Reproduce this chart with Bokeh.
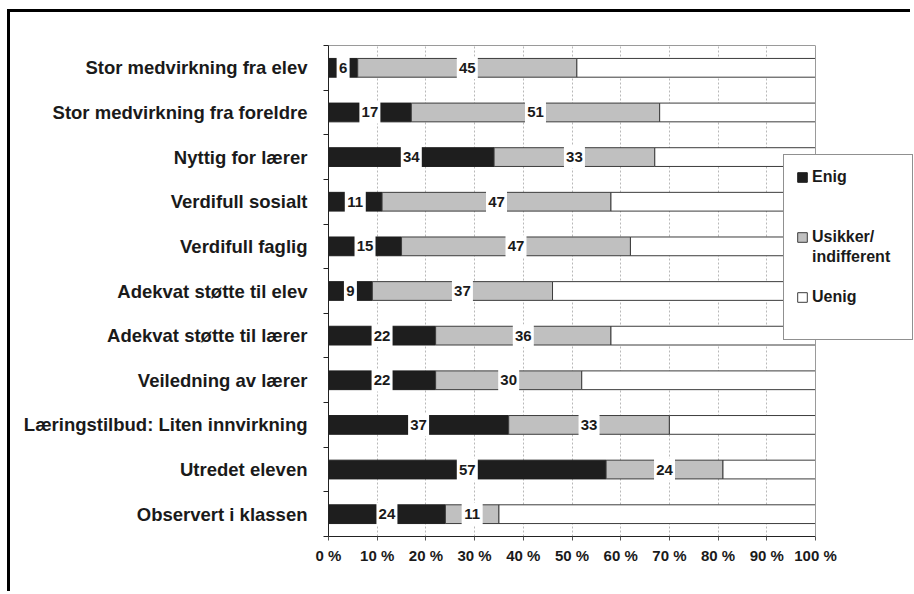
from bokeh.plotting import figure
from bokeh.models import (Range1d, FixedTicker, ColumnDataSource, Legend, LegendItem,
                          LinearAxis, Span)
from bokeh.core.properties import value
from bokeh.embed import file_html
from bokeh.resources import INLINE

categories = ["Stor medvirkning fra elev", "Stor medvirkning fra foreldre", "Nyttig for lærer",
              "Verdifull sosialt", "Verdifull faglig", "Adekvat støtte til elev",
              "Adekvat støtte til lærer", "Veiledning av lærer",
              "Læringstilbud: Liten innvirkning", "Utredet eleven", "Observert i klassen"]
enig = [6, 17, 34, 11, 15, 9, 22, 22, 37, 57, 24]
usikker = [45, 51, 33, 47, 47, 37, 36, 30, 33, 24, 11]
uenig = [49, 32, 33, 42, 38, 54, 42, 48, 30, 19, 65]
series_names = ["Enig", "Usikker/", "indifferent", "Uenig"]
x_ticks = [0, 10, 20, 30, 40, 50, 60, 70, 80, 90, 100]

FONT = "Liberation Sans"
n = len(categories)
ypos = [n - i - 0.5 for i in range(n)]

# frame extends to the right edge so the legend can overlap it; axis limited to 0..100
FRAME_LEFT = 318
FIG_W = 903
X_END = 100 * (FIG_W - FRAME_LEFT) / 487.0

p = figure(width=FIG_W, height=582, output_backend="svg", toolbar_location=None,
           x_range=Range1d(0, X_END), y_range=Range1d(0, n),
           min_border_left=FRAME_LEFT, min_border_top=33, min_border_right=0, min_border_bottom=58)
p.styles = {"border-top": "3px solid black", "border-left": "3px solid black",
            "margin-left": "7px", "margin-top": "9px"}
p.outline_line_color = None
p.background_fill_color = "white"
p.border_fill_color = "white"

xa = p.below[0]
ya = p.left[0]

e_left = [0] * n
e_right = enig
u_left = enig
u_right = [a + b for a, b in zip(enig, usikker)]
w_left = u_right
w_right = [a + b + c for a, b, c in zip(enig, usikker, uenig)]

# grid
p.ygrid.grid_line_color = None
p.xgrid.ticker = FixedTicker(ticks=x_ticks)
p.xgrid.grid_line_color = "#b8b8b8"
p.xgrid.grid_line_dash = "2 2"
p.xgrid.grid_line_width = 1

# plot-area outline (top and right), grey
p.add_layout(Span(location=x_ticks[-1], dimension="height", line_color="#9a9a9a", line_width=1))
top_ax = LinearAxis(bounds=(x_ticks[0], x_ticks[-1]), ticker=FixedTicker(ticks=[]),
                    axis_line_color="#9a9a9a", major_tick_line_color=None,
                    minor_tick_line_color=None, major_label_text_font_size="0px")
p.add_layout(top_ax, "above")

src = ColumnDataSource(dict(y=ypos, el=e_left, er=e_right, ul=u_left, ur=u_right,
                            wl=w_left, wr=w_right))
BH = 0.42
r_e = p.hbar(y="y", left="el", right="er", height=BH, source=src,
             fill_color="#1e1e1e", line_color="#1e1e1e", line_width=1)
r_u = p.hbar(y="y", left="ul", right="ur", height=BH, source=src,
             fill_color="#c0c0c0", line_color="#3c3c3c", line_width=1)
r_w = p.hbar(y="y", left="wl", right="wr", height=BH, source=src,
             fill_color="#ffffff", line_color="#3c3c3c", line_width=1)

# value labels with white boxes
lab_x, lab_y, lab_t, lab_w = [], [], [], []
for i in range(n):
    for lo, hi in ((e_left[i], e_right[i]), (u_left[i], u_right[i])):
        v = hi - lo
        lab_x.append((lo + hi) / 2)
        lab_y.append(ypos[i])
        lab_t.append(str(v))
        lab_w.append(5 + 8 * len(str(v)))
lsrc = ColumnDataSource(dict(x=lab_x, y=lab_y, t=lab_t, w=lab_w))
p.rect(x="x", y="y", width="w", height=BH + 0.08, width_units="screen", source=lsrc,
       fill_color="white", line_color=None)
p.text(x="x", y="y", text="t", source=lsrc, text_font=value(FONT), text_font_style="bold",
       text_font_size="15px", text_align="center", text_baseline="middle", text_color="#1a1a1a")

# x axis (bottom)
xa.bounds = (x_ticks[0], x_ticks[-1])
xa.ticker = FixedTicker(ticks=x_ticks)
xa.major_label_overrides = {t: f"{t} %" for t in x_ticks}
xa.major_tick_out = 4
xa.major_tick_in = 0
xa.minor_tick_line_color = None
xa.axis_line_color = "#222222"
xa.major_tick_line_color = "#555555"
xa.major_label_text_font = FONT
xa.major_label_text_font_style = "bold"
xa.major_label_text_font_size = "15px"
xa.major_label_text_color = "#1a1a1a"
xa.major_label_standoff = 6

# y axis
ya.ticker = FixedTicker(ticks=ypos, minor_ticks=list(range(n + 1)))
ya.major_label_overrides = {y: c for y, c in zip(ypos, categories)}
ya.major_tick_line_color = None
ya.major_tick_out = 0
ya.major_tick_in = 0
ya.minor_tick_out = 5
ya.minor_tick_in = 0
ya.minor_tick_line_color = "#222222"
ya.axis_line_color = "#222222"
ya.major_label_text_font = FONT
ya.major_label_text_font_style = "bold"
ya.major_label_text_font_size = "18.5px"
ya.major_label_text_color = "#1a1a1a"
ya.major_label_standoff = 16

# legend (blank items act as spacers)
r_blank = p.hbar(y=[], left=[], right=[], height=BH, fill_alpha=0, line_alpha=0)
items = [
    LegendItem(label=series_names[0], renderers=[r_e]),
    LegendItem(label=" ", renderers=[r_blank]),
    LegendItem(label="  ", renderers=[r_blank]),
    LegendItem(label=series_names[1], renderers=[r_u]),
    LegendItem(label=series_names[2], renderers=[r_blank]),
    LegendItem(label="   ", renderers=[r_blank]),
    LegendItem(label=series_names[3], renderers=[r_w]),
    LegendItem(label="    ", renderers=[r_blank]),
]
leg = Legend(items=items, location=(455, 196), orientation="vertical",
             padding=12, spacing=0, margin=0, label_height=20, label_width=88,
             glyph_height=12, glyph_width=12, label_standoff=4,
             label_text_font=FONT, label_text_font_style="bold", label_text_font_size="16px",
             label_text_color="#1a1a1a", label_text_baseline="middle",
             border_line_color="#222222", border_line_width=1,
             background_fill_color="white", background_fill_alpha=1.0)
p.add_layout(leg, "center")

open("out.html", "w").write(file_html(p, INLINE))
